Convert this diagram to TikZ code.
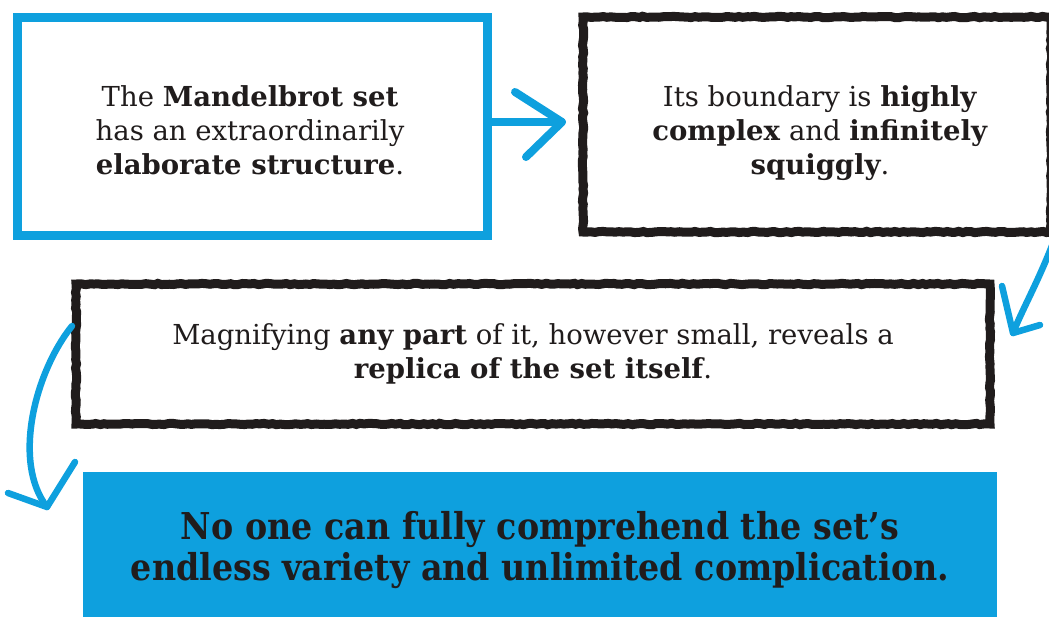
\documentclass[tikz,border=0pt]{standalone}
\usepackage{fontspec}
\setmainfont{DejaVu Serif}
\newfontfamily\condfont[FakeStretch=0.9]{DejaVu Serif}
\usetikzlibrary{decorations.pathmorphing}
\definecolor{mblue}{RGB}{14,160,222}
\definecolor{inkblack}{RGB}{32,28,28}
\tikzset{
  x=1pt, y=-1pt,
  bluebox/.style={draw=mblue, line width=9pt, rectangle},
  blackbox/.style={draw=inkblack, line width=9pt, rectangle,
    decorate, decoration={random steps, segment length=4pt, amplitude=0.7pt}},
  boxtext/.style={align=center, text=inkblack, font=\fontsize{27.5}{34}\selectfont},
  fillbox/.style={fill=mblue, rectangle, align=center, text=inkblack,
    font=\condfont\bfseries\fontsize{37}{41}\selectfont},
  arrowline/.style={draw=mblue, line width=8pt, line cap=round, line join=round},
  thinarrow/.style={draw=mblue, line width=6.5pt, line cap=round, line join=round}
}
\begin{document}
\begin{tikzpicture}
\useasboundingbox (0,0) rectangle (1049,616);
\clip (0,0) rectangle (1049,616);
\fill[white] (0,0) rectangle (1049,616);

\node[bluebox, minimum width=470pt, minimum height=218pt] (b1) at (252,126) {};
\node[boxtext] (t1txt) at (250,130)
  {The \textbf{Mandelbrot set}\\has an extraordinarily\\\textbf{elaborate structure}.};
\node[blackbox, minimum width=468pt, minimum height=215pt] (b2) at (817,124.5) {};
\node[boxtext] (t2txt) at (820,133)
  {Its boundary is \textbf{highly}\\\textbf{complex} and \textbf{infinitely}\\\textbf{squiggly}.};
\node[blackbox, minimum width=914pt, minimum height=140pt] (b3) at (533,354) {};
\node[boxtext] (t3txt) at (533,354)
  {Magnifying \textbf{any part} of it, however small, reveals a\\\textbf{replica of the set itself}.};
\node[fillbox, minimum width=914pt, minimum height=156pt] (b4) at (540,550)
  {No one can fully comprehend the set’s\\endless variety and unlimited complication.};

% arrow 1
\coordinate (t1) at (562,122);
\coordinate (t1a) at (515,92);
\coordinate (t1b) at (526,157);
\draw[arrowline] (b1.east |- t1) -- (t1);
\draw[arrowline] (t1a) -- (t1) -- (t1b);

% arrow 2
\coordinate (s2) at (1053,243);
\coordinate (t2) at (1013,333);
\coordinate (t2a) at (1002,286);
\coordinate (t2b) at (1040,325);
\draw[thinarrow] (s2) .. controls (1038,282) and (1022,310) .. (t2);
\draw[thinarrow] (t2a) -- (t2) -- (t2b);

% arrow 3
\coordinate (s3) at (72,326);
\coordinate (t3) at (47,507);
\coordinate (t3a) at (8,493);
\coordinate (t3b) at (75,462);
\draw[thinarrow] (s3) .. controls (35,372) and (12,462) .. (t3);
\draw[thinarrow] (t3a) -- (t3) -- (t3b);
\end{tikzpicture}
\end{document}
